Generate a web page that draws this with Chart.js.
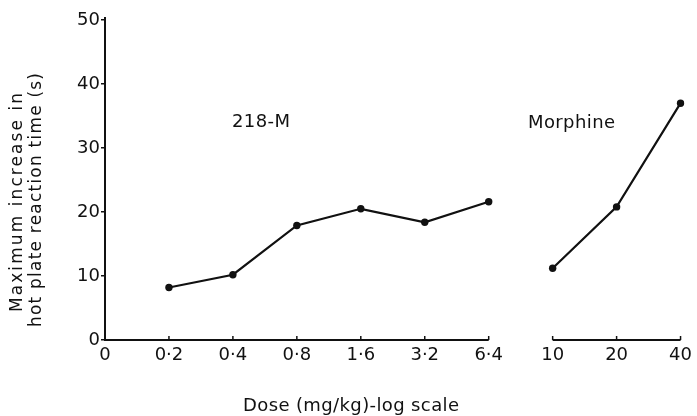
<!DOCTYPE html>
<html>
<head>
<meta charset="utf-8">
<script src="https://cdn.jsdelivr.net/npm/chart.js@4/dist/chart.umd.min.js"></script>
<style>
  html, body { margin: 0; padding: 0; background: #fff; }
  #wrap { width: 697px; height: 416px; position: relative; }
</style>
</head>
<body>
<div id="wrap"><canvas id="c"></canvas></div>
<script>
// Dose categories (mg/kg), placed at equal log-spaced steps
const categories = ['0', '0·2', '0·4', '0·8', '1·6', '3·2', '6·4', '10', '20', '40'];
// Maximum increase in hot plate reaction time (s)
const series218M     = [null, 8.2, 10.2, 17.9, 20.5, 18.4, 21.6, null, null, null];
const seriesMorphine = [null, null, null, null, null, null, null, 11.2, 20.8, 37.0];
const yTicks = [0, 10, 20, 30, 40, 50];
// Axis baseline pieces (broken between 6·4 and 10)
const axisSegments = [['0', '6·4'], ['10', '40']];
const seriesNames = ['218-M', 'Morphine'];
const yTitle = ['Maximum increase in', 'hot plate reaction time (s)'];
const xTitle = 'Dose (mg/kg)-log scale';

const FONT = '"DejaVu Sans", "Open Sans", sans-serif';

function fitText(ctx, text, x, y, width) {
  ctx.letterSpacing = '0px';
  const w = ctx.measureText(text).width;
  const ls = (width - w) / Math.max(1, text.length - 1);
  ctx.letterSpacing = ls + 'px';
  ctx.textAlign = 'left';
  ctx.fillText(text, x, y);
  ctx.letterSpacing = '0px';
}

const decor = {
  id: 'decor',
  afterDraw(chart) {
    const ctx = chart.ctx;
    const xs = chart.scales.x, ys = chart.scales.y;
    const y0 = ys.getPixelForValue(0);
    ctx.save();
    ctx.strokeStyle = '#111';
    ctx.lineCap = 'butt';
    axisSegments.forEach(([a, b]) => {
      const ia = categories.indexOf(a), ib = categories.indexOf(b);
      const xa = xs.getPixelForValue(ia), xb = xs.getPixelForValue(ib);
      ctx.lineWidth = 2;
      ctx.beginPath();
      ctx.moveTo(xa - (ia === 0 ? 1 : 0), y0);
      ctx.lineTo(xb, y0);
      ctx.stroke();
      ctx.lineWidth = 1.5;
      for (let i = ia; i <= ib; i++) {
        if (i === 0) continue;
        const px = xs.getPixelForValue(i);
        ctx.beginPath();
        ctx.moveTo(px, y0);
        ctx.lineTo(px, y0 - 4);
        ctx.stroke();
      }
    });
    ctx.lineWidth = 2;
    ctx.beginPath();
    ctx.moveTo(xs.left, ys.top);
    ctx.lineTo(xs.left, ys.top - 3);
    ctx.stroke();

    ctx.fillStyle = '#111';
    ctx.textBaseline = 'alphabetic';
    ctx.font = '18px ' + FONT;
    fitText(ctx, seriesNames[0], 232, 127, 58);
    fitText(ctx, seriesNames[1], 528, 128, 87);
    ctx.font = '18px ' + FONT;
    fitText(ctx, xTitle, 243, 411, 216);
    ctx.save();
    ctx.rotate(-Math.PI / 2);
    ctx.font = '17px ' + FONT;
    fitText(ctx, yTitle[0], -312, 22, 219);
    fitText(ctx, yTitle[1], -327, 41, 254);
    ctx.restore();
    ctx.restore();
  }
};

new Chart(document.getElementById('c'), {
  type: 'line',
  data: {
    labels: categories,
    datasets: [
      { label: seriesNames[0], data: series218M },
      { label: seriesNames[1], data: seriesMorphine }
    ].map(d => Object.assign(d, {
      borderColor: '#111', backgroundColor: '#111', borderWidth: 2.2,
      pointRadius: 3.7, pointBackgroundColor: '#111', pointBorderWidth: 0,
      tension: 0, spanGaps: false, fill: false
    }))
  },
  options: {
    responsive: true,
    maintainAspectRatio: false,
    animation: false,
    events: [],
    layout: { padding: { top: 20, right: 14, left: 0, bottom: 0 } },
    plugins: { legend: { display: false }, tooltip: { enabled: false } },
    scales: {
      x: {
        type: 'category',
        offset: false,
        border: { display: false },
        grid: { display: false, drawTicks: false },
        ticks: {
          color: '#111', font: { family: FONT, size: 18 }, padding: 5,
          maxRotation: 0, autoSkip: false
        },
        afterFit(s) { s.height = 76; }
      },
      y: {
        min: 0, max: 50,
        afterBuildTicks(s) { s.ticks = yTicks.map(v => ({ value: v })); },
        border: { display: true, color: '#111', width: 2 },
        grid: { drawOnChartArea: false, drawTicks: true, tickLength: 4, color: '#111', lineWidth: 1.5 },
        ticks: { color: '#111', font: { family: FONT, size: 18 }, padding: 1 },
        afterFit(s) { s.width = 105; }
      }
    }
  },
  plugins: [decor]
});
</script>
</body>
</html>
